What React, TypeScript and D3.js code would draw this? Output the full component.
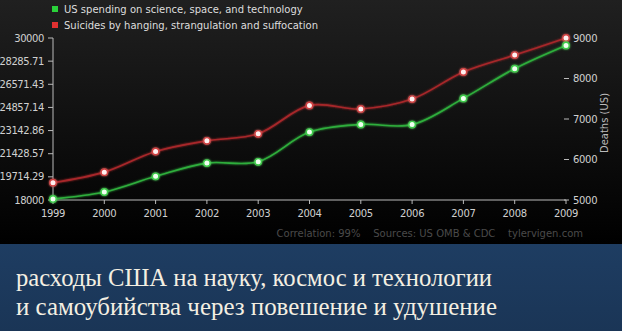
import React from "react";
import * as d3 from "d3";

const years = [1999, 2000, 2001, 2002, 2003, 2004, 2005, 2006, 2007, 2008, 2009];
const spending = [18079, 18594, 19753, 20734, 20831, 23029, 23597, 23584, 25525, 27731, 29449];
const suicides = [5427, 5688, 6198, 6462, 6635, 7336, 7248, 7491, 8161, 8578, 9000];
const leftTicks = [18000, 19714.29, 21428.57, 23142.86, 24857.14, 26571.43, 28285.71, 30000];
const rightTicks = [5000, 6000, 7000, 8000, 9000];
const legendLabels = ["US spending on science, space, and technology", "Suicides by hanging, strangulation and suffocation"];
const footer = "Correlation: 99%    Sources: US OMB & CDC    tylervigen.com";
const captionLines = ["расходы США на науку, космос и технологии", "и самоубийства через повешение и удушение"];

const W = 622, H = 331;

export default function App() {
  const x = d3.scaleLinear().domain([1999, 2009]).range([53, 566]);
  const yL = d3.scaleLinear().domain([18000, 30000]).range([200, 38]);
  const yR = d3.scaleLinear().domain([5000, 9000]).range([200, 38]);
  const lineL = d3.line<number>().x((_, i) => x(years[i])).y((d) => yL(d)).curve(d3.curveCatmullRom.alpha(0.5));
  const lineR = d3.line<number>().x((_, i) => x(years[i])).y((d) => yR(d)).curve(d3.curveCatmullRom.alpha(0.5));
  const green = "#2fae3c";
  const red = "#a8282a";
  const font = "'DejaVu Sans', sans-serif";
  return (
    <div style={{ position: "fixed", left: 0, top: 0 }}>
      <svg width={W} height={H} style={{ display: "block" }}>
        <defs>
          <linearGradient id="bg" x1="0" y1="0" x2="0" y2="1">
            <stop offset="0" stopColor="#202020" />
            <stop offset="1" stopColor="#000000" />
          </linearGradient>
          <linearGradient id="blue" x1="0" y1="0" x2="0" y2="1">
            <stop offset="0" stopColor="#1e3d62" />
            <stop offset="1" stopColor="#1a3556" />
          </linearGradient>
          <filter id="glow" x="-50%" y="-50%" width="200%" height="200%">
            <feGaussianBlur stdDeviation="1.2" result="b" />
            <feMerge>
              <feMergeNode in="b" />
              <feMergeNode in="SourceGraphic" />
            </feMerge>
          </filter>
        </defs>
        <rect x={0} y={0} width={W} height={244} fill="url(#bg)" />
        <rect x={0} y={244} width={W} height={H - 244} fill="url(#blue)" />

        {/* legend */}
        <rect x={52} y={6} width={6} height={6} fill="#2ad13a" />
        <text x={64} y={12.5} fontFamily={font} fontSize={10} fill="#dddddd">{legendLabels[0]}</text>
        <rect x={52} y={22} width={6} height={6} fill="#e03030" />
        <text x={64} y={28.5} fontFamily={font} fontSize={10} fill="#dddddd">{legendLabels[1]}</text>

        {/* left axis */}
        <line x1={53} x2={53} y1={38} y2={200} stroke="#bbbbbb" strokeWidth={1} />
        {leftTicks.map((t) => (
          <g key={t}>
            <line x1={48} x2={53} y1={yL(t)} y2={yL(t)} stroke="#bbbbbb" />
            <text x={44} y={yL(t) + 3.5} textAnchor="end" fontFamily={font} fontSize={10} fill="#d0d0d0" letterSpacing={-0.4}>
              {t === 18000 || t === 30000 ? String(t) : t.toFixed(2)}
            </text>
          </g>
        ))}

        {/* x axis */}
        <line x1={53} x2={566} y1={200} y2={200} stroke="#bbbbbb" />
        {years.map((yr) => (
          <g key={yr}>
            <line x1={x(yr)} x2={x(yr)} y1={200} y2={204} stroke="#bbbbbb" />
            <text x={x(yr)} y={217} textAnchor="middle" fontFamily={font} fontSize={10} fill="#d0d0d0" letterSpacing={-0.3}>{yr}</text>
          </g>
        ))}

        {/* right axis */}
        {rightTicks.map((t) => (
          <g key={t}>
            <line x1={564} x2={569} y1={yR(t)} y2={yR(t)} stroke="#bbbbbb" />
            <text x={573} y={yR(t) + 3.5} fontFamily={font} fontSize={10} fill="#d0d0d0" letterSpacing={-0.3}>{t}</text>
          </g>
        ))}
        <text transform="translate(608,123) rotate(-90)" textAnchor="middle" fontFamily={font} fontSize={10} fill="#bbbbbb">Deaths (US)</text>

        {/* lines */}
        <path d={lineR(suicides) || ""} fill="none" stroke={red} strokeWidth={1.6} filter="url(#glow)" />
        <path d={lineL(spending) || ""} fill="none" stroke={green} strokeWidth={1.6} filter="url(#glow)" />
        {suicides.map((v, i) => (
          <circle key={"r" + i} cx={x(years[i])} cy={yR(v)} r={3.2} fill="#fff0f0" stroke="#d04040" strokeWidth={1.4} filter="url(#glow)" />
        ))}
        {spending.map((v, i) => (
          <circle key={"g" + i} cx={x(years[i])} cy={yL(v)} r={3.2} fill="#f0fff0" stroke="#3ccc48" strokeWidth={1.4} filter="url(#glow)" />
        ))}

        {/* footer */}
        <text x={583} y={237} textAnchor="end" fontFamily={font} fontSize={10} fill="#4a4a4a" style={{ whiteSpace: "pre" }}>{footer}</text>

        {/* caption */}
        <text x={16} y={286} fontFamily="'Liberation Serif', serif" fontSize={25} fill="#f4efe2" textLength={476} lengthAdjust="spacingAndGlyphs">{captionLines[0]}</text>
        <text x={16} y={315} fontFamily="'Liberation Serif', serif" fontSize={25} fill="#f4efe2" textLength={481} lengthAdjust="spacingAndGlyphs">{captionLines[1]}</text>
      </svg>
    </div>
  );
}
